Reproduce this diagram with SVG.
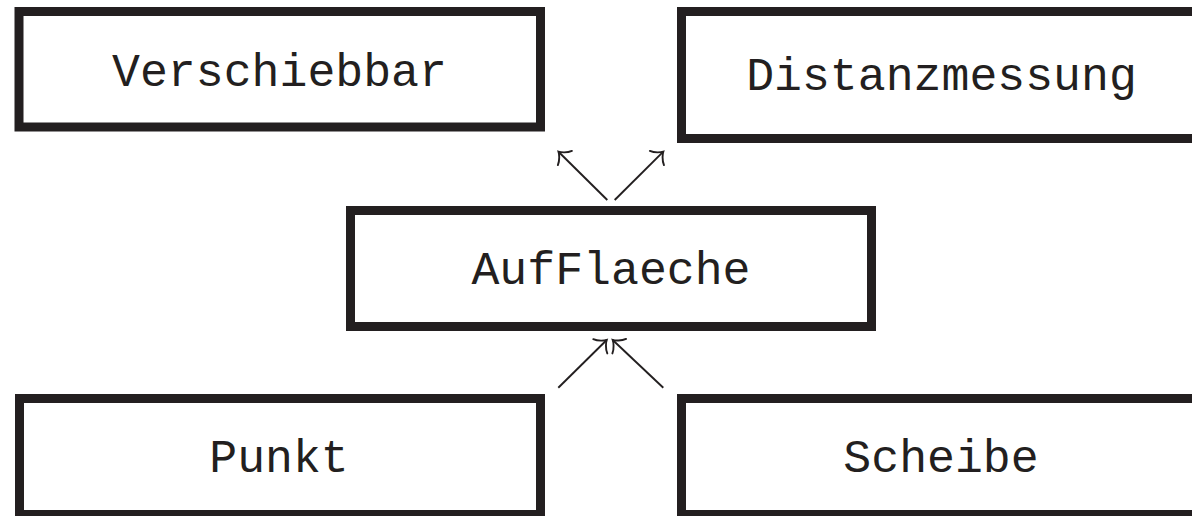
<svg xmlns="http://www.w3.org/2000/svg" width="1192" height="516" viewBox="0 0 1192 516">
  <style>
    .box { fill: #ffffff; stroke: #231f20; stroke-width: 9; }
    .label { font-family: "Liberation Mono", "DejaVu Sans Mono", monospace; font-size: 46.5px; fill: #231f20; text-anchor: middle; }
    .edge { stroke: #231f20; stroke-width: 1.9; fill: none; marker-end: url(#arrow); }
  </style>
  <defs>
    <marker id="arrow" markerUnits="userSpaceOnUse" orient="auto" markerWidth="30" markerHeight="30" refX="0" refY="0" viewBox="-15 -15 30 30" overflow="visible">
      <path d="M -9,-10 C -7,-5 -2,-1 0,0 C -2,1 -7,5 -9,10" fill="none" stroke="#231f20" stroke-width="1.9" stroke-linecap="round"/>
    </marker>
  </defs>
  <rect width="1192" height="516" fill="#ffffff"/>
  <g id="connectors">
    <line class="edge" x1="607.3" y1="200" x2="558.5" y2="151.7"/>
    <line class="edge" x1="614.7" y1="200" x2="663.3" y2="151.7"/>
    <line class="edge" x1="558.3" y1="387.7" x2="606.7" y2="340"/>
    <line class="edge" x1="663.3" y1="387.7" x2="612.7" y2="340"/>
  </g>
  <g id="node-verschiebbar">
    <rect class="box" x="19" y="11.5" width="521.5" height="115.5"/>
    <text class="label" x="279.5" y="86">Verschiebbar</text>
  </g>
  <g id="node-distanzmessung">
    <rect class="box" x="681.5" y="11.5" width="520" height="127"/>
    <text class="label" x="941.5" y="90">Distanzmessung</text>
  </g>
  <g id="node-aufflaeche">
    <rect class="box" x="350.5" y="210.5" width="521" height="116"/>
    <text class="label" x="611" y="284">AufFlaeche</text>
  </g>
  <g id="node-punkt">
    <rect class="box" x="19.5" y="398.5" width="521" height="116"/>
    <text class="label" x="279" y="472">Punkt</text>
  </g>
  <g id="node-scheibe">
    <rect class="box" x="681.5" y="398.5" width="520" height="116"/>
    <text class="label" x="941" y="472">Scheibe</text>
  </g>
</svg>
